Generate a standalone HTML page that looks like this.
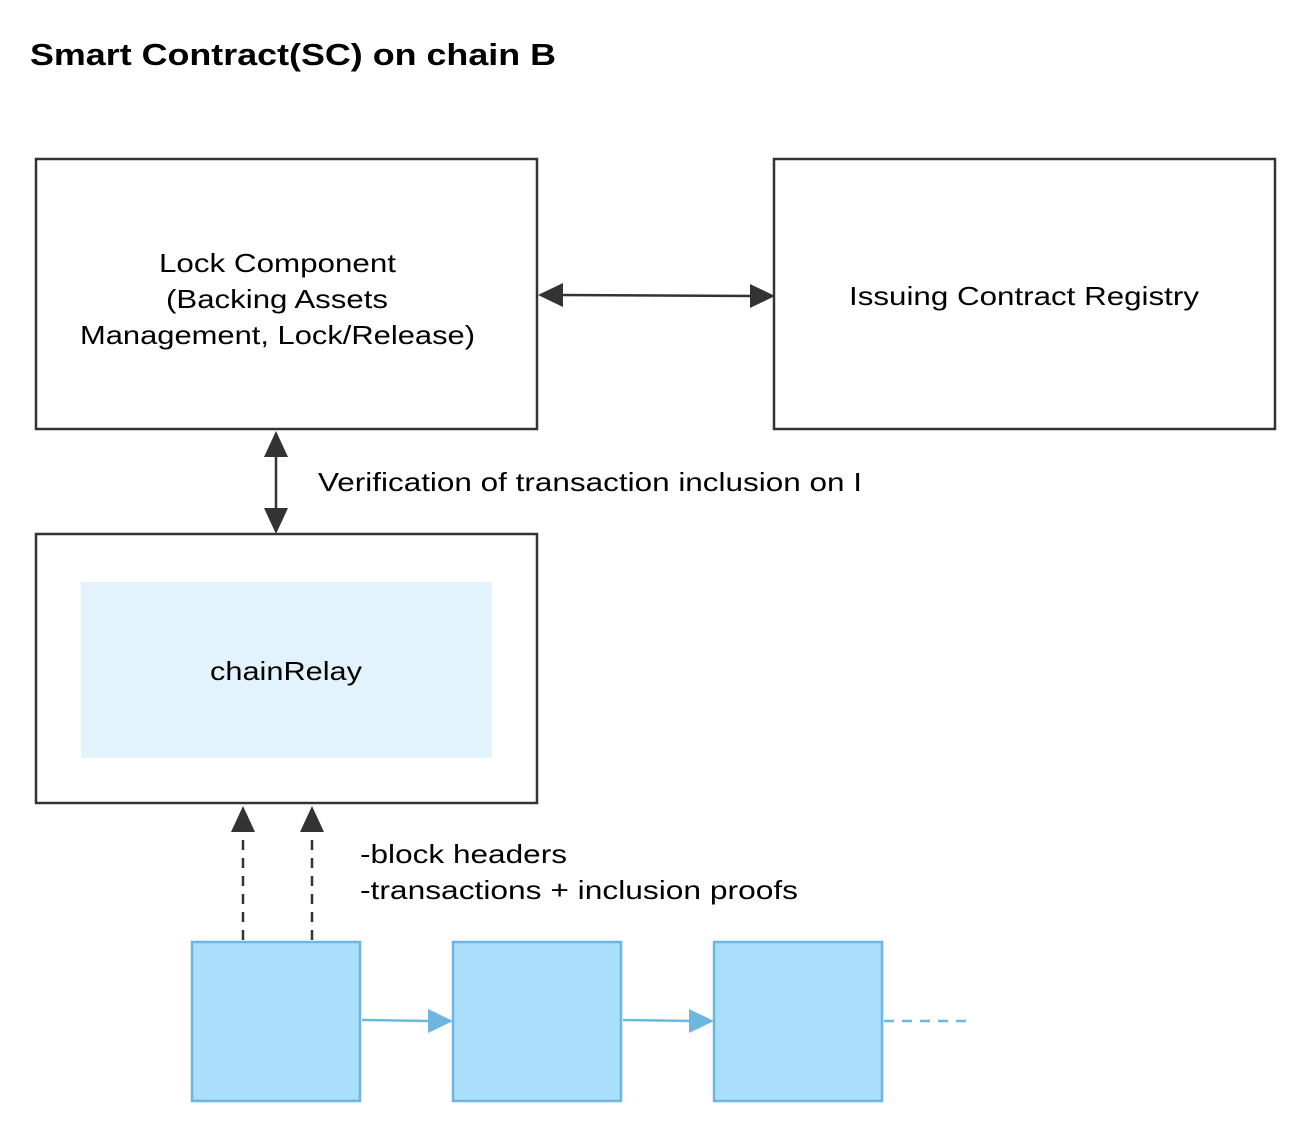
<!DOCTYPE html>
<html><head><meta charset="utf-8"><style>
html,body{margin:0;padding:0;background:#fff;}
svg{display:block;}
text{font-family:"Liberation Sans",sans-serif;fill:#000;}
</style></head><body>
<svg width="1305" height="1131" viewBox="0 0 1305 1131" xmlns="http://www.w3.org/2000/svg">
<text x="30" y="65" font-size="31" font-weight="bold" textLength="526" lengthAdjust="spacingAndGlyphs">Smart Contract(SC) on chain B</text>
<rect x="36" y="159" width="501" height="270" fill="#fff" stroke="#333" stroke-width="2.5"/>
<text x="159" y="272" font-size="26" textLength="237" lengthAdjust="spacingAndGlyphs">Lock Component</text>
<text x="166" y="308" font-size="26" textLength="222" lengthAdjust="spacingAndGlyphs">(Backing Assets</text>
<text x="80" y="344" font-size="26" textLength="395" lengthAdjust="spacingAndGlyphs">Management, Lock/Release)</text>
<rect x="774" y="159" width="501" height="270" fill="#fff" stroke="#333" stroke-width="2.5"/>
<text x="849" y="305" font-size="26" textLength="350" lengthAdjust="spacingAndGlyphs">Issuing Contract Registry</text>
<line x1="560" y1="295" x2="752" y2="296" stroke="#333" stroke-width="2.5"/>
<polygon points="538,295 563,283 563,307" fill="#333"/>
<polygon points="775,296 750,284 750,308" fill="#333"/>
<line x1="276" y1="455" x2="276" y2="510" stroke="#333" stroke-width="2.5"/>
<polygon points="276,431 264,457 288,457" fill="#333"/>
<polygon points="276,534 264,508 288,508" fill="#333"/>
<text x="318" y="491" font-size="26" textLength="544" lengthAdjust="spacingAndGlyphs">Verification of transaction inclusion on I</text>
<rect x="36" y="534" width="501" height="269" fill="#fff" stroke="#333" stroke-width="2.5"/>
<rect x="81" y="582" width="411" height="176" fill="#e3f3fd"/>
<text x="210" y="680" font-size="26" textLength="152" lengthAdjust="spacingAndGlyphs">chainRelay</text>
<polygon points="243,806 231,832 255,832" fill="#333"/>
<polygon points="312,806 300,832 324,832" fill="#333"/>
<line x1="243" y1="840" x2="243" y2="940" stroke="#333" stroke-width="2.5" stroke-dasharray="10,8"/>
<line x1="312" y1="840" x2="312" y2="940" stroke="#333" stroke-width="2.5" stroke-dasharray="10,8"/>
<text x="360" y="863" font-size="26" textLength="207" lengthAdjust="spacingAndGlyphs">-block headers</text>
<text x="360" y="899" font-size="26" textLength="438" lengthAdjust="spacingAndGlyphs">-transactions + inclusion proofs</text>
<rect x="192" y="942" width="168" height="159" fill="#a9defc" stroke="#6cb6e0" stroke-width="2.5"/>
<rect x="453" y="942" width="168" height="159" fill="#a9defc" stroke="#6cb6e0" stroke-width="2.5"/>
<rect x="714" y="942" width="168" height="159" fill="#a9defc" stroke="#6cb6e0" stroke-width="2.5"/>
<line x1="362" y1="1020" x2="430" y2="1021" stroke="#6cb6e0" stroke-width="2.5"/>
<polygon points="453,1021 428,1009 428,1033" fill="#6cb6e0"/>
<line x1="623" y1="1020" x2="691" y2="1021" stroke="#6cb6e0" stroke-width="2.5"/>
<polygon points="714,1021 689,1009 689,1033" fill="#6cb6e0"/>
<line x1="884" y1="1021" x2="966" y2="1021" stroke="#6cb6e0" stroke-width="2.5" stroke-dasharray="10,8"/>
</svg>
</body></html>
